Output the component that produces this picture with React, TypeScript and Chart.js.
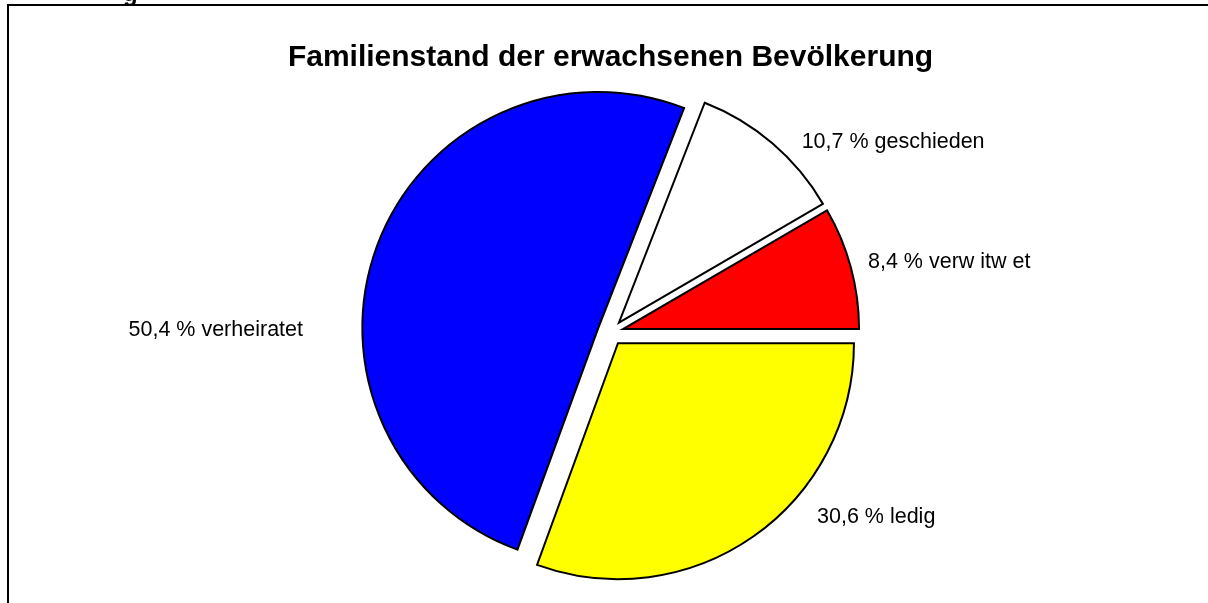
import React, { useEffect, useRef } from 'react';
import { Chart, registerables } from 'chart.js';

Chart.register(...registerables);

// ---- data ----
const TITLE = 'Familienstand der erwachsenen Bevölkerung';
const categories = ['ledig', 'verheiratet', 'geschieden', 'verw itw et'];
const values = [30.6, 50.4, 10.7, 8.4];
const colors = ['#FFFF00', '#0000FF', '#FFFFFF', '#FF0000'];

// ---- label placement (multiples of the pie radius, relative to its centre) ----
const labelAnchorX = [0.875, -1.303, 0.81, 1.091];
const labelAnchorY = [0.782, -0.011, -0.808, -0.3];
const labelAlign: CanvasTextAlign[] = ['left', 'right', 'left', 'left'];

const EXPLODE = 13;
const FONT = "'Liberation Sans', Arial, sans-serif";

const fmt = (v: number) => v.toFixed(1).replace('.', ',');

const explodePlugin = {
  id: 'explodeSlices',
  beforeDatasetDraw(chart: any, args: any) {
    const ctx = chart.ctx;
    args.meta.data.forEach((arc: any) => {
      const { startAngle, endAngle } = arc.getProps(['startAngle', 'endAngle'], true);
      const mid = (startAngle + endAngle) / 2;
      ctx.save();
      ctx.translate(Math.cos(mid) * EXPLODE, Math.sin(mid) * EXPLODE);
      arc.draw(ctx, chart.chartArea);
      ctx.restore();
    });
    return false;
  },
};

const textPlugin = {
  id: 'pieTexts',
  afterDatasetsDraw(chart: any) {
    const ctx = chart.ctx;
    const meta = chart.getDatasetMeta(0);
    const first = meta.data[0];
    if (!first) return;
    const { x, y, outerRadius } = first.getProps(['x', 'y', 'outerRadius'], true);
    ctx.save();
    ctx.fillStyle = '#000';
    ctx.font = `bold 30px ${FONT}`;
    ctx.textAlign = 'center';
    ctx.textBaseline = 'alphabetic';
    ctx.fillText(TITLE, x, 65.5);
    ctx.font = `21.5px ${FONT}`;
    ctx.textBaseline = 'middle';
    categories.forEach((c, i) => {
      ctx.textAlign = labelAlign[i];
      ctx.fillText(
        `${fmt(values[i])} % ${c}`,
        x + labelAnchorX[i] * outerRadius,
        y + labelAnchorY[i] * outerRadius
      );
    });
    ctx.restore();
  },
};

export default function App() {
  const ref = useRef<HTMLCanvasElement>(null);
  useEffect(() => {
    if (!ref.current) return;
    const chart = new Chart(ref.current, {
      type: 'pie',
      data: {
        labels: categories,
        datasets: [
          {
            data: values,
            backgroundColor: colors,
            borderColor: '#000',
            borderWidth: 2,
            hoverBorderWidth: 2,
            borderJoinStyle: 'miter',
            hoverOffset: 0,
            offset: 0,
          } as any,
        ],
      },
      options: {
        responsive: false,
        animation: false,
        rotation: 90,
        radius: 236,
        events: [],
        layout: { padding: { left: 13, right: 0, top: 62, bottom: 0 } },
        plugins: {
          legend: { display: false },
          title: { display: false },
          tooltip: { enabled: false },
        },
      } as any,
      plugins: [explodePlugin, textPlugin],
    });
    return () => chart.destroy();
  }, []);

  return (
    <>
      <canvas
        ref={ref}
        width={1208}
        height={603}
        style={{ position: 'absolute', left: 0, top: 0, display: 'block' }}
      />
      <div
        style={{
          position: 'absolute',
          left: 7,
          top: 4,
          width: 1199,
          height: 597,
          borderLeft: '2px solid #000',
          borderTop: '2px solid #000',
          pointerEvents: 'none',
        }}
      />
      <div
        style={{
          position: 'absolute',
          left: 123,
          top: -19,
          fontFamily: FONT,
          fontWeight: 'bold',
          fontSize: 24,
          lineHeight: '24px',
          whiteSpace: 'nowrap',
        }}
      >
        g
      </div>
    </>
  );
}
